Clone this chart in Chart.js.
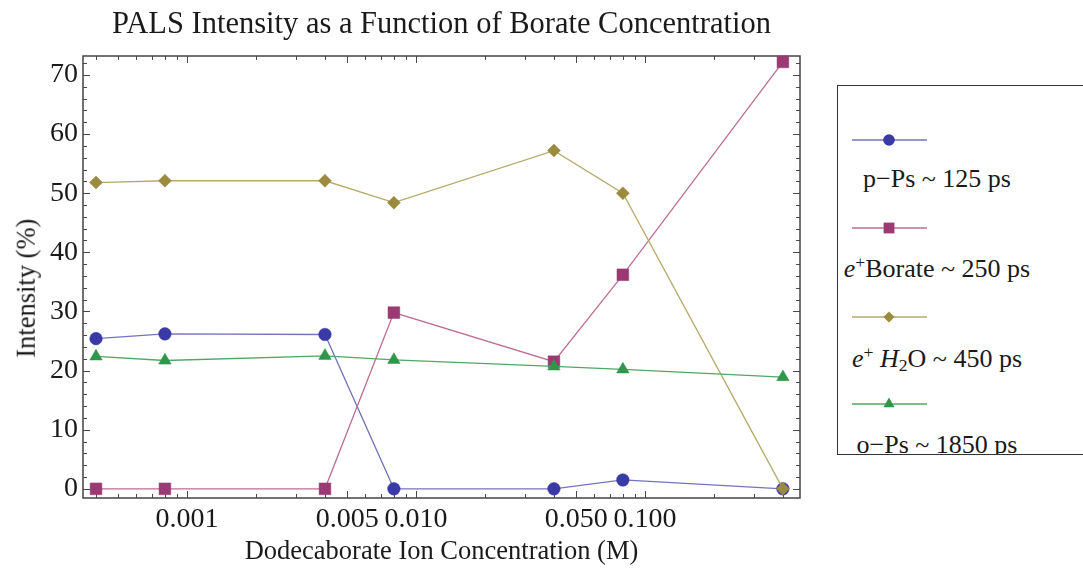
<!DOCTYPE html>
<html><head><meta charset="utf-8">
<script src="https://cdn.jsdelivr.net/npm/chart.js@4/dist/chart.umd.min.js"></script>
<style>
html,body{margin:0;padding:0;background:#fff;}
#wrap{position:relative;width:1083px;height:572px;overflow:hidden;font-family:"Liberation Serif","Times New Roman",serif;color:#1a1a1a;}
#c{position:absolute;left:0;top:0;}
.t{position:absolute;line-height:1;white-space:nowrap;}
#title{left:83px;width:717px;top:8px;text-align:center;font-size:30.5px;}
#xtitle{left:83px;width:717px;top:537px;text-align:center;font-size:26.5px;}
#ytitle{left:-124px;width:300px;top:275px;text-align:center;font-size:26.5px;transform:rotate(-90deg);}
#legend{position:absolute;left:837px;top:85px;width:320px;height:368px;border:1.5px solid #333;overflow:hidden;background:#fff;}
#legend .lt{position:absolute;left:-51px;width:300px;text-align:center;font-size:26px;line-height:1;white-space:nowrap;}
#legend svg{position:absolute;left:0;}
sup{font-size:0.68em;vertical-align:0.5em;line-height:0;}
sub{font-size:0.68em;vertical-align:-0.22em;line-height:0;}
</style></head>
<body><div id="wrap">
<canvas id="c" width="1083" height="572"></canvas>
<div class="t" id="title">PALS Intensity as a Function of Borate Concentration</div>
<div class="t" id="xtitle">Dodecaborate Ion Concentration (M)</div>
<div class="t" id="ytitle">Intensity (%)</div>
<div id="legend"></div>
</div>
<script>
// ---- data ----
const concentrations = [0.0004, 0.0008, 0.004, 0.008, 0.04, 0.08, 0.4];
const pPs      = [25.4, 26.2, 26.1, 0, 0, 1.5, 0];
const eBorate  = [0, 0, 0, 29.8, 21.5, 36.2, 72.2];
const eH2O     = [51.8, 52.1, 52.1, 48.4, 57.2, 50.0, 0];
const oPs      = [22.4, 21.7, 22.5, 21.8, 20.7, 20.2, 18.9];
const seriesNames = ["p−Ps ~ 125 ps", "<i>e</i><sup>+</sup>Borate ~ 250 ps", "<i>e</i><sup>+</sup> <i>H</i><sub>2</sub>O ~ 450 ps", "o−Ps ~ 1850 ps"];
const xTickValues = [0.001, 0.005, 0.01, 0.05, 0.1];
const xTickLabels = ["0.001", "0.005", "0.010", "0.050", "0.100"];
const yTickValues = [0, 10, 20, 30, 40, 50, 60, 70];

const styles = [
  {line:'#7474bb', fill:'#3a3aa6', shape:'circle', r:6.3},
  {line:'#bd6e93', fill:'#9b3a72', shape:'rect', r:8.3},
  {line:'#b5aa6c', fill:'#9a8b3e', shape:'rectRot', r:6.5},
  {line:'#4fa863', fill:'#2f964a', shape:'triangle', r:7.2}
];
const allSeries = [pPs, eBorate, eH2O, oPs];

const datasets = allSeries.map((vals, i) => ({
  label: seriesNames[i],
  data: concentrations.map((c, j) => ({x: c, y: vals[j]})),
  borderColor: styles[i].line,
  borderWidth: 1.3,
  backgroundColor: styles[i].fill,
  pointBackgroundColor: styles[i].fill,
  pointBorderColor: styles[i].fill,
  pointBorderWidth: 0.5,
  pointStyle: styles[i].shape,
  pointRadius: styles[i].r,
  pointHoverRadius: styles[i].r,
  tension: 0,
  clip: false,
  order: 4 - i
}));

const frameTicks = {
  id: 'frameTicks',
  beforeDatasetsDraw(chart) {
    const {ctx, chartArea: a, scales: {x, y}} = chart;
    ctx.save();
    ctx.strokeStyle = '#4a4a4a';
    ctx.lineWidth = 1;
    const seg = (x1, y1, x2, y2) => { ctx.beginPath(); ctx.moveTo(x1, y1); ctx.lineTo(x2, y2); ctx.stroke(); };
    for (let e = -4; e <= 0; e++) {
      for (let m = 1; m <= 9; m++) {
        const v = m * Math.pow(10, e);
        if (v < x.min || v > x.max) continue;
        const px = Math.round(x.getPixelForValue(v)) + 0.5;
        const major = xTickValues.some(t => Math.abs(t - v) / v < 1e-6);
        const len = major ? 7 : 4;
        seg(px, a.bottom, px, a.bottom - len);
        seg(px, a.top, px, a.top + len);
      }
    }
    for (let v = 0; v <= y.max; v += 2) {
      const py = Math.round(y.getPixelForValue(v)) + 0.5;
      const major = yTickValues.includes(v);
      const len = major ? 7 : 4;
      seg(a.left, py, a.left + len, py);
      seg(a.right, py, a.right - len, py);
    }
    ctx.lineWidth = 1.5;
    ctx.strokeStyle = '#444';
    ctx.strokeRect(a.left, a.top, a.right - a.left, a.bottom - a.top);
    ctx.restore();
  }
};

new Chart(document.getElementById('c'), {
  type: 'line',
  data: {datasets},
  options: {
    responsive: false,
    animation: false,
    events: [],
    layout: {padding: {left: 0, right: 283, top: 56, bottom: 0}},
    plugins: {legend: {display: false}, title: {display: false}, tooltip: {enabled: false}},
    scales: {
      x: {
        type: 'logarithmic',
        min: 0.000351, max: 0.475,
        afterFit(s) { s.height = 74; },
        afterBuildTicks(s) { s.ticks = xTickValues.map(v => ({value: v})); },
        grid: {display: false, drawTicks: false, tickLength: 0},
        border: {display: false},
        ticks: {
          autoSkip: false, maxRotation: 0, padding: 5,
          color: '#1a1a1a',
          font: {family: '"Liberation Serif", serif', size: 28},
          callback: (v, i) => xTickLabels[i]
        }
      },
      y: {
        type: 'linear',
        min: -1.55, max: 73.2,
        afterFit(s) { s.width = 83; },
        afterBuildTicks(s) { s.ticks = yTickValues.map(v => ({value: v})); },
        grid: {display: false, drawTicks: false, tickLength: 0},
        border: {display: false},
        ticks: {
          padding: 5,
          color: '#1a1a1a',
          font: {family: '"Liberation Serif", serif', size: 28},
          callback: v => String(v)
        }
      }
    }
  },
  plugins: [frameTicks]
});

// ---- legend ----
const legend = document.getElementById('legend');
const lineY = [54, 142, 231, 318];
const textTop = [80, 170, 260, 346];
function markerSvg(st, r) {
  const cx = 51, cy = 10;
  if (st.shape === 'circle') return `<circle cx="${cx}" cy="${cy}" r="${r}" fill="${st.fill}"/>`;
  if (st.shape === 'rect') return `<rect x="${cx - r}" y="${cy - r}" width="${2 * r}" height="${2 * r}" fill="${st.fill}"/>`;
  if (st.shape === 'rectRot') return `<polygon points="${cx - r},${cy} ${cx},${cy - r} ${cx + r},${cy} ${cx},${cy + r}" fill="${st.fill}"/>`;
  return `<polygon points="${cx},${cy - r} ${cx + r * 0.866},${cy + r * 0.5} ${cx - r * 0.866},${cy + r * 0.5}" fill="${st.fill}"/>`;
}
const legR = [5.8, 5.4, 5.6, 6.4];
styles.forEach((st, i) => {
  const svg = document.createElementNS('http://www.w3.org/2000/svg', 'svg');
  svg.setAttribute('width', '100'); svg.setAttribute('height', '20');
  svg.style.top = (lineY[i] - 10) + 'px';
  svg.innerHTML = `<line x1="14" y1="10" x2="89" y2="10" stroke="${st.line}" stroke-width="1.5"/>` + markerSvg(st, legR[i]);
  legend.appendChild(svg);
  const d = document.createElement('div');
  d.className = 'lt';
  d.style.top = textTop[i] + 'px';
  d.innerHTML = seriesNames[i];
  legend.appendChild(d);
});
</script>
</body></html>
